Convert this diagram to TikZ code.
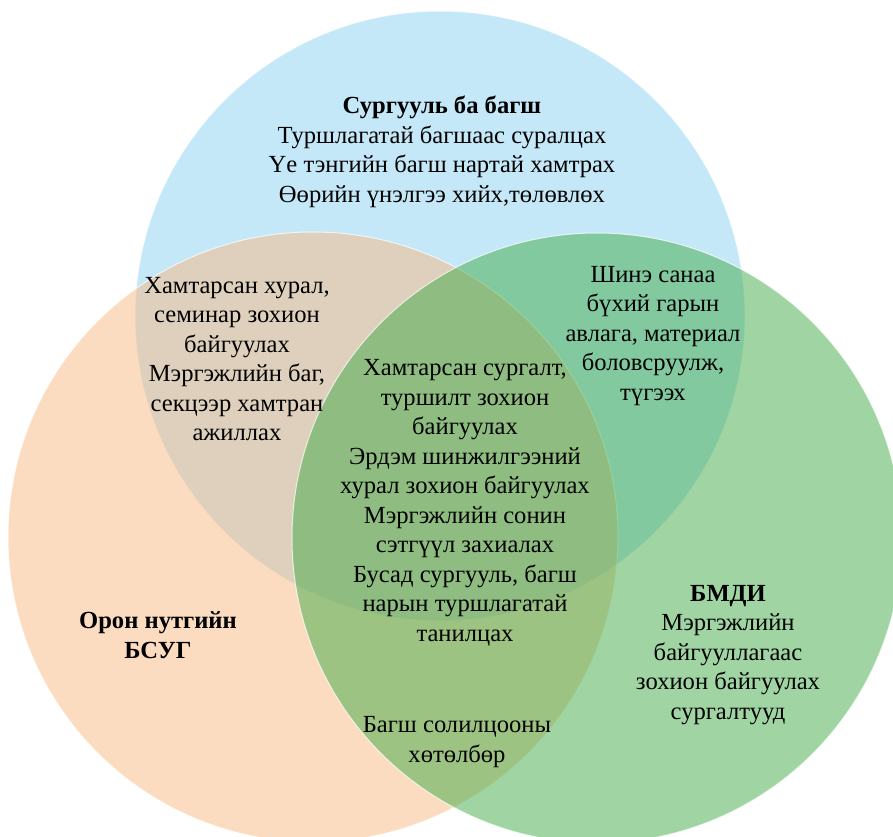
\documentclass[tikz,border=0pt]{standalone}
\usepackage{fontspec}
\setmainfont{Liberation Serif}
\usepackage{xcolor}
\usetikzlibrary{positioning}
\definecolor{schoolblue}{HTML}{8BD1F1}
\definecolor{localorange}{HTML}{F7B981}
\definecolor{instgreen}{HTML}{41AB47}
\tikzset{
  vennset/.style={circle,minimum size=610pt,inner sep=0pt,
                  fill opacity=0.5,draw=white,draw opacity=0.7,line width=1pt},
  areatext/.style={align=center,font=\fontsize{24.6}{29.5}\selectfont,
                   text=black,inner sep=0pt,text opacity=1}
}
\begin{document}
\begin{tikzpicture}[x=1pt,y=-1pt]
      \useasboundingbox (0,0) rectangle (893,836);
      \clip (0,0) rectangle (893,836);
      \node[vennset,fill=schoolblue] (school) at (440,316) {};
      \node[vennset,fill=localorange] (local) at (313,537) {};
      \node[vennset,fill=instgreen] (inst) at (597,538) {};
      \node[areatext] (schooltxt) at (442,152)
        {\textbf{Сургууль ба багш}\\Туршлагатай багшаас суралцах\\Үе тэнгийн багш нартай хамтрах\\Өөрийн үнэлгээ хийх,төлөвлөх};
      \node[areatext] (schoollocal) at (237,359)
        {Хамтарсан хурал,\\семинар зохион\\байгуулах\\Мэргэжлийн баг,\\секцээр хамтран\\ажиллах};
      \node[areatext] (schoolinst) at (653,336)
        {Шинэ санаа\\бүхий гарын\\авлага, материал\\боловсруулж,\\түгээх};
      \node[areatext] (allthree) at (465,503)
        {Хамтарсан сургалт,\\туршилт зохион\\байгуулах\\Эрдэм шинжилгээний\\хурал зохион байгуулах\\Мэргэжлийн сонин\\сэтгүүл захиалах\\Бусад сургууль, багш\\нарын туршлагатай\\танилцах};
      \node[areatext] (localtxt) at (158,635)
        {\textbf{Орон нутгийн}\\\textbf{БСУГ}};
      \node[areatext] (insttxt) at (728,655)
        {\textbf{БМДИ}\\Мэргэжлийн\\байгууллагаас\\зохион байгуулах\\сургалтууд};
      \node[areatext] (localinst) at (457,742)
        {Багш солилцооны\\хөтөлбөр};
    \end{tikzpicture}
\end{document}
